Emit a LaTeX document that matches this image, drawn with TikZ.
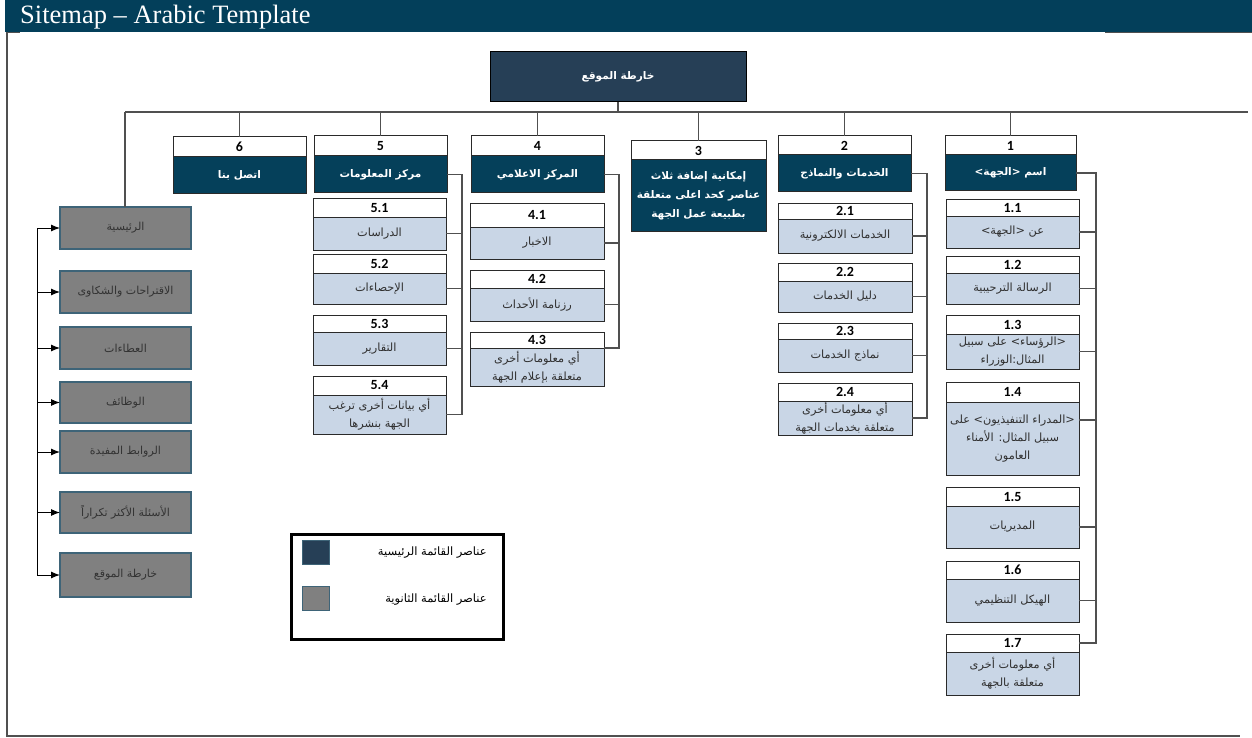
\documentclass[tikz,border=0pt]{standalone}
\usepackage{fontspec}
\usetikzlibrary{arrows.meta,calc}
\TeXXeTstate=1
\newfontfamily\arabicfont[Script=Arabic]{DejaVu Sans}
\newfontfamily\numfont{Carlito}
\newfontfamily\titlefont{Liberation Serif}
\newcommand\ar[1]{{\arabicfont\beginR #1\endR}}
\definecolor{headc}{HTML}{033F5A}
\definecolor{rootc}{HTML}{263F56}
\definecolor{mainc}{HTML}{05405A}
\definecolor{lightc}{HTML}{C9D6E6}
\definecolor{grayc}{HTML}{808080}
\definecolor{grayb}{HTML}{3E6478}
\definecolor{bordc}{HTML}{2A2A2A}
\definecolor{connc}{HTML}{505050}
\definecolor{textc}{HTML}{303030}
\tikzset{
  band/.style={draw=bordc, fill=white, line width=1pt, inner sep=0pt, outer sep=0pt,
    font=\numfont\bfseries\fontsize{14}{16}\selectfont, text=black},
  body/.style={draw=bordc, fill=lightc, line width=1pt, inner sep=0pt, outer sep=0pt,
    align=center, font=\arabicfont\fontsize{11.3}{18}\selectfont, text=textc},
  mainb/.style={body, fill=mainc, text=white, font=\arabicfont\bfseries\fontsize{10.5}{19}\selectfont},
  graybox/.style={draw=grayb, fill=grayc, line width=1.3pt, inner sep=0pt, outer sep=0pt,
    font=\arabicfont\fontsize{11}{13}\selectfont, text=black!80},
  conn/.style={draw=connc, line width=1.3pt},
  arr/.style={draw=black, line width=1pt, -{Latex[length=9pt,width=7pt]}},
  legtext/.style={anchor=east, inner sep=0pt, font=\arabicfont\fontsize{11.5}{13}\selectfont},
}
% name, x1, x2, ytop, yband, ybot, number, body style, text
\newcommand\tbox[9]{%
  \node[band, minimum width={(#3-#2)*1pt}, minimum height={(#5-#4)*1pt}] (#1n) at ({(#2+#3)/2},{(#4+#5)/2}) {#7};
  \node[#8, minimum width={(#3-#2)*1pt}, minimum height={(#6-#5)*1pt}] (#1) at ({(#2+#3)/2},{(#5+#6)/2}) {#9};}
\begin{document}
\begin{tikzpicture}[x=1pt,y=-1pt]
\useasboundingbox (0,0) rectangle (1252,738);
% header and frame
\fill[headc] (5,0) rectangle (1252,32);
\node[anchor=west, text=white, font=\titlefont\fontsize{26.5}{28}\selectfont, inner sep=0pt] (title) at (20,17) {Sitemap – Arabic Template};
\draw[connc, line width=1.5pt] (7,32) -- (7,736) -- (1240,736);
\draw[connc, line width=1pt] (7,33) -- (20,33);
\draw[connc, line width=1pt] (1105,33) -- (1252,33);
% root
\node[draw=black, fill=rootc, line width=1pt, minimum width=256pt, minimum height=50pt, inner sep=0pt,
  text=white, font=\arabicfont\bfseries\fontsize{10.5}{12}\selectfont] (root) at (618,77) {\ar{خارطة الموقع}};
\coordinate (hbL) at (125,112);
\coordinate (hbR) at (1248,112);
% columns
\tbox{m1}{945}{1076}{136}{155}{191}{1}{mainb}{\ar{اسم <الجهة>}}
\tbox{m2}{778}{911}{136}{155}{192}{2}{mainb}{\ar{الخدمات والنماذج}}
\tbox{m3}{631}{766}{141}{160}{231}{3}{mainb}{\ar{إمكانية إضافة ثلاث}\\\ar{عناصر كحد اعلى متعلقة}\\\ar{بطبيعة عمل الجهة}}
\tbox{m4}{471}{604}{136}{156}{193}{4}{mainb}{\ar{المركز الاعلامي}}
\tbox{m5}{314}{447}{136}{156}{193}{5}{mainb}{\ar{مركز المعلومات}}
\tbox{m6}{173}{306}{137}{157}{194}{6}{mainb}{\ar{اتصل بنا}}
% children column 1
\tbox{c11}{946}{1079}{200}{216}{248}{1.1}{body}{\ar{عن <الجهة>}}
\tbox{c12}{946}{1079}{256}{273}{304}{1.2}{body}{\ar{الرسالة الترحيبية}}
\tbox{c13}{946}{1079}{315}{334}{369}{1.3}{body}{\ar{<الرؤساء> على سبيل}\\\ar{المثال:الوزراء}}
\tbox{c14}{946}{1079}{382}{402}{475}{1.4}{body}{\ar{<المدراء التنفيذيون> على}\\\ar{سبيل المثال: الأمناء}\\\ar{العامون}}
\tbox{c15}{946}{1079}{487}{506}{548}{1.5}{body}{\ar{المديريات}}
\tbox{c16}{946}{1079}{561}{579}{622}{1.6}{body}{\ar{الهيكل التنظيمي}}
\tbox{c17}{946}{1079}{634}{652}{695}{1.7}{body}{\ar{أي معلومات أخرى}\\\ar{متعلقة بالجهة}}
% children column 2
\tbox{c21}{778}{912}{203}{219}{253}{2.1}{body}{\ar{الخدمات الالكترونية}}
\tbox{c22}{778}{912}{263}{281}{312}{2.2}{body}{\ar{دليل الخدمات}}
\tbox{c23}{778}{912}{323}{339}{372}{2.3}{body}{\ar{نماذج الخدمات}}
\tbox{c24}{778}{912}{383}{401}{435}{2.4}{body}{\ar{أي معلومات أخرى}\\\ar{متعلقة بخدمات الجهة}}
% children column 4
\tbox{c41}{470}{604}{203}{227}{259}{4.1}{body}{\ar{الاخبار}}
\tbox{c42}{470}{604}{270}{288}{321}{4.2}{body}{\ar{رزنامة الأحداث}}
\tbox{c43}{470}{604}{332}{348}{386}{4.3}{body}{\ar{أي معلومات أخرى}\\\ar{متعلقة بإعلام الجهة}}
% children column 5
\tbox{c51}{313}{446}{199}{217}{250}{5.1}{body}{\ar{الدراسات}}
\tbox{c52}{313}{446}{254}{273}{304}{5.2}{body}{\ar{الإحصاءات}}
\tbox{c53}{313}{446}{315}{332}{365}{5.3}{body}{\ar{التقارير}}
\tbox{c54}{313}{446}{376}{395}{434}{5.4}{body}{\ar{أي بيانات أخرى ترغب}\\\ar{الجهة بنشرها}}
% gray boxes
\node[graybox, minimum width=131pt, minimum height=42pt] (g1) at (125.5,228) {\arabicfont\beginR الرئيسية\endR};
\node[graybox, minimum width=131pt, minimum height=42pt] (g2) at (125.5,292) {\arabicfont\beginR الاقتراحات والشكاوى\endR};
\node[graybox, minimum width=131pt, minimum height=42pt] (g3) at (125.5,348) {\arabicfont\beginR العطاءات\endR};
\node[graybox, minimum width=131pt, minimum height=41pt] (g4) at (125.5,402.5) {\arabicfont\beginR الوظائف\endR};
\node[graybox, minimum width=131pt, minimum height=42pt] (g5) at (125.5,452) {\arabicfont\beginR الروابط المفيدة\endR};
\node[graybox, minimum width=131pt, minimum height=41pt] (g6) at (125.5,512.5) {\arabicfont\beginR الأسئلة الأكثر تكراراً\endR};
\node[graybox, minimum width=131pt, minimum height=44pt] (g7) at (125.5,575) {\arabicfont\beginR خارطة الموقع\endR};
% top connectors
\draw[conn] (root.south) -- (root.south |- hbL);
\draw[conn] (hbL) -- (hbR);
\foreach \m in {m1n,m2n,m3n,m4n,m5n,m6n}{\draw[conn] (\m.north |- hbL) -- (\m.north);}
\draw[conn] (hbL) -- (hbL |- g1.north);
% column buses
\coordinate (b1) at (1096,0);
\coordinate (b2) at (927,0);
\coordinate (b4) at (619,0);
\coordinate (b5) at (462,0);
\draw[conn] (m1.east) -- (m1.east -| b1) |- (c17n.east);
\foreach \c in {c11,c12,c13,c15,c16}{\draw[conn] (\c.east) -- (\c.east -| b1);}
\draw[conn] (c14.north east) ++(0,18) coordinate (c14e) -- (c14e -| b1);
\draw[conn] (m2.east) -- (m2.east -| b2) |- (c24.east);
\foreach \c in {c21,c22,c23}{\draw[conn] (\c.east) -- (\c.east -| b2);}
\draw[conn] (m4.east) -- (m4.east -| b4) |- (c43.north east);
\foreach \c in {c41,c42}{\draw[conn] (\c.east) -- (\c.east -| b4);}
\draw[conn] (m5.east) -- (m5.east -| b5) |- (c54.east);
\foreach \c in {c51,c52,c53}{\draw[conn] (\c.east) -- (\c.east -| b5);}
% left arrows
\coordinate (lv) at (37,0);
\draw[line width=1pt] (lv |- g1.west) -- (lv |- g7.west);
\foreach \g in {g1,g2,g3,g4,g5,g6,g7}{\draw[arr] (lv |- \g.west) -- (\g.west);}
% legend
\draw[black, line width=3pt] (291,534) rectangle (503,639);
\draw[grayb, fill=rootc, line width=1pt] (302,540) rectangle (329,564);
\draw[grayb, fill=grayc, line width=1pt] (302,586) rectangle (329,610);
\node[legtext] (lt1) at (487,553) {\arabicfont\beginR عناصر القائمة الرئيسية\endR};
\node[legtext] (lt2) at (487,600) {\arabicfont\beginR عناصر القائمة الثانوية\endR};
\end{tikzpicture}
\end{document}
